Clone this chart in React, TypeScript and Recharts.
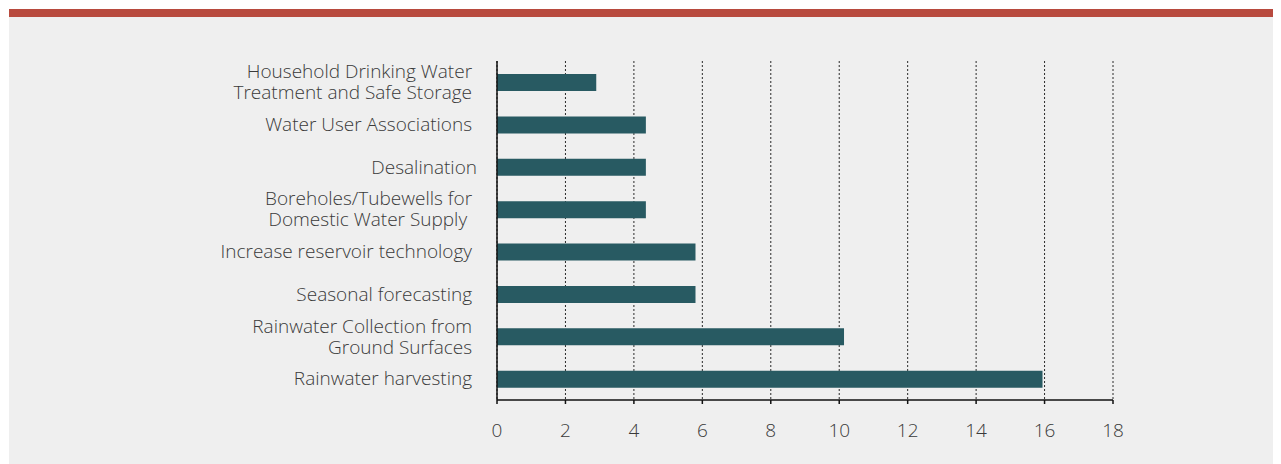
import { Bar, BarChart, CartesianGrid, XAxis, YAxis } from "recharts";

const CATEGORIES = [
  "Household Drinking Water \nTreatment and Safe Storage ",
  "Water User Associations ",
  "Desalination",
  "Boreholes/Tubewells for \nDomestic Water Supply  ",
  "Increase reservoir technology ",
  "Seasonal forecasting ",
  "Rainwater Collection from \nGround Surfaces ",
  "Rainwater harvesting ",
];

const VALUES = [2.9, 4.35, 4.35, 4.35, 5.8, 5.8, 10.14, 15.94];

const X_TICKS = [0, 2, 4, 6, 8, 10, 12, 14, 16, 18];
const BOUNDARY_TICKS = [0, 1, 2, 3, 4, 5, 6, 7, 8];

const FONT = "'Open Sans', sans-serif";
const TEXT = "#3a3a3a";

const data = CATEGORIES.map((name, i) => ({ name, value: VALUES[i] }));

function CategoryTick({ x, y, payload }: any) {
  const lines = String(payload.value).split("\n");
  const lh = 21;
  const start = -((lines.length - 1) * lh) / 2;
  return (
    <text
      x={x}
      y={y}
      textAnchor="end"
      fill={TEXT}
      fontSize={19}
      fontWeight={300}
      fontFamily={FONT}
      style={{ whiteSpace: "pre" }}
    >
      {lines.map((line, i) => (
        <tspan key={i} x={x} y={y + start + i * lh} dy="0.35em">
          {line}
        </tspan>
      ))}
    </text>
  );
}

export default function App() {
  return (
    <div
      style={{
        marginLeft: 1,
        marginTop: 1,
        width: 1272,
        borderTop: "8px solid #b84a3e",
        background: "#efefef",
        height: 447,
      }}
    >
      <BarChart
        width={1272}
        height={447}
        data={data}
        layout="vertical"
        margin={{ top: 44, right: 168, bottom: 24, left: 0 }}
      >
        <CartesianGrid
          yAxisId="cat"
          horizontal={false}
          stroke="#2a2a2a"
          strokeDasharray="2 2"
        />
        <XAxis
          type="number"
          domain={[0, 18]}
          ticks={X_TICKS}
          height={40}
          tickSize={4}
          tickMargin={20}
          axisLine={{ stroke: "#111", strokeWidth: 1.5 }}
          tickLine={{ stroke: "#111", strokeWidth: 1.5 }}
          tick={{ fill: TEXT, fontSize: 19, fontFamily: FONT, fontWeight: 300 }}
        />
        <YAxis
          yAxisId="cat"
          type="category"
          dataKey="name"
          width={0.01}
          tickSize={0}
          tickMargin={20}
          axisLine={false}
          tickLine={false}
          interval={0}
          tick={<CategoryTick />}
        />
        <YAxis
          yAxisId="edge"
          type="number"
          domain={[0, 8]}
          ticks={BOUNDARY_TICKS}
          width={488}
          tickSize={4}
          tick={false}
          axisLine={{ stroke: "#111", strokeWidth: 1.5 }}
          tickLine={{ stroke: "#111", strokeWidth: 1.5 }}
        />
        <Bar
          yAxisId="cat"
          dataKey="value"
          fill="#285a62"
          barSize={17}
          isAnimationActive={false}
        />
      </BarChart>
    </div>
  );
}
